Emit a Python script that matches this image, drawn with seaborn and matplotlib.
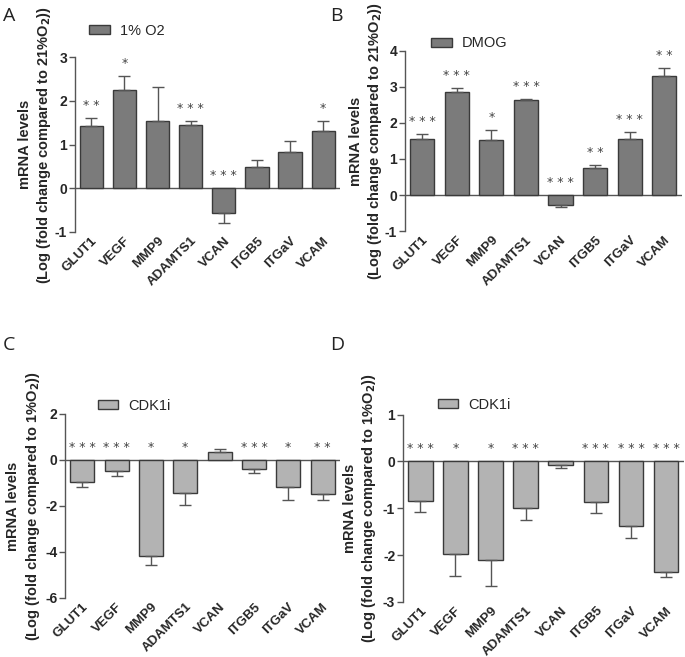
import matplotlib
matplotlib.use("Agg")
import matplotlib.pyplot as plt
import seaborn as sns
import pandas as pd
import numpy as np

genes = ["GLUT1", "VEGF", "MMP9", "ADAMTS1", "VCAN", "ITGB5", "ITGaV", "VCAM"]

# panel A: 1% O2 vs 21% O2
a_vals = [1.42, 2.25, 1.53, 1.44, -0.57, 0.48, 0.83, 1.32]
a_err = [0.18, 0.31, 0.79, 0.09, 0.23, 0.17, 0.24, 0.21]
a_sig = ["**", "*", "", "***", "***", "", "", "*"]

# panel B: DMOG vs 21% O2
b_vals = [1.55, 2.85, 1.53, 2.63, -0.27, 0.74, 1.55, 3.30]
b_err = [0.13, 0.11, 0.27, 0.04, 0.07, 0.09, 0.19, 0.23]
b_sig = ["***", "***", "*", "***", "***", "**", "***", "**"]

# panel C: CDK1i vs 1% O2
c_vals = [-0.97, -0.49, -4.20, -1.43, 0.36, -0.41, -1.17, -1.48]
c_err = [0.22, 0.22, 0.37, 0.54, 0.12, 0.16, 0.57, 0.27]
c_sig = ["***", "***", "*", "*", "", "***", "*", "**"]

# panel D: CDK1i vs 1% O2
d_vals = [-0.85, -1.97, -2.11, -1.00, -0.07, -0.87, -1.38, -2.36]
d_err = [0.23, 0.48, 0.55, 0.25, 0.07, 0.24, 0.26, 0.12]
d_sig = ["***", "*", "*", "***", "", "***", "***", "***"]

sns.set_style("white")
plt.rcParams["font.family"] = ["Liberation Sans", "DejaVu Sans"]

dark = "#7b7b7b"
light = "#b3b3b3"
edge = "#3a3a3a"
axc = "#555555"


def panel(ax, vals, err, sig, color, label, ylab, ylim, yticks, lab_x, leg_xy):
    df = pd.DataFrame({"gene": genes, "val": vals})
    sns.barplot(data=df, x="gene", y="val", ax=ax, color=color, width=0.7,
                edgecolor=edge, linewidth=1.0, saturation=1, label=label)
    x = np.arange(len(genes))
    v = np.array(vals)
    e = np.array(err)
    up = np.where(v >= 0, e, 0)
    lo = np.where(v < 0, e, 0)
    ax.errorbar(x, v, yerr=[lo, up], fmt="none", ecolor="#555555",
                elinewidth=1.0, capsize=4.5, capthick=1.0)
    for xi, vi, ei, s in zip(x, v, e, sig):
        if not s:
            continue
        top = vi + ei if vi > 0 else 0
        ax.annotate(" ".join(s), (xi, top), xytext=(0, 9),
                    textcoords="offset points", ha="center", va="center",
                    fontsize=9, color="#444444", family="DejaVu Sans")
    ax.axhline(0, color=axc, lw=1.0, zorder=0)
    ax.set_xlim(-0.5, 7.5)
    ax.set_ylim(*ylim)
    ax.set_yticks(yticks)
    ax.set_yticklabels([str(t) for t in yticks], fontsize=10,
                       fontweight="bold")
    ax.set_xlabel("")
    ax.set_xticks(x)
    ax.set_xticklabels(genes, rotation=45, ha="right", rotation_mode="anchor",
                       fontsize=9.5, fontweight="bold")
    ax.tick_params(axis="x", length=0, pad=2)
    ax.tick_params(axis="y", length=4.5, width=1, color=axc, direction="out",
                   left=True, pad=1)
    for s in ["top", "right", "bottom"]:
        ax.spines[s].set_visible(False)
    ax.spines["left"].set_color(axc)
    ax.spines["left"].set_linewidth(1.0)
    ax.set_ylabel(ylab, fontsize=10.5, fontweight="bold", linespacing=1.25)
    ax.yaxis.set_label_coords(lab_x, 0.5)
    ax.legend(loc="center left", bbox_to_anchor=leg_xy, frameon=False,
              fontsize=10.5, handlelength=1.4, handleheight=0.6,
              handletextpad=0.7, borderaxespad=0, borderpad=0)


fig = plt.figure(figsize=(6.85, 6.57), dpi=100)
axA = fig.add_axes([0.109, 0.647, 0.387, 0.266])
axB = fig.add_axes([0.591, 0.648, 0.404, 0.275])
axC = fig.add_axes([0.095, 0.090, 0.401, 0.280])
axD = fig.add_axes([0.588, 0.084, 0.410, 0.285])

panel(axA, a_vals, a_err, a_sig, dark, "1% O2",
      "mRNA levels\n(Log (fold change compared to 21%O$_\\mathbf{2}$))",
      (-1, 3), [-1, 0, 1, 2, 3], -0.08, (0.055, 1.15))
panel(axB, b_vals, b_err, b_sig, dark, "DMOG",
      "mRNA levels\n(Log (fold change compared to 21%O$_\\mathbf{2}$))",
      (-1, 4), [-1, 0, 1, 2, 3, 4], -0.074, (0.095, 1.04))
panel(axC, c_vals, c_err, c_sig, light, "CDK1i",
      "mRNA levels\n(Log (fold change compared to 1%O$_\\mathbf{2}$))",
      (-6, 2), [-6, -4, -2, 0, 2], -0.085, (0.12, 1.045))
panel(axD, d_vals, d_err, d_sig, light, "CDK1i",
      "mRNA levels\n(Log (fold change compared to 1%O$_\\mathbf{2}$))",
      (-3, 1), [-3, -2, -1, 0, 1], -0.089, (0.125, 1.053))

for lab, (x, y) in zip("ABCD", [(0.004, 0.99), (0.482, 0.99),
                                (0.004, 0.488), (0.482, 0.488)]):
    fig.text(x, y, lab, fontsize=14, family="Open Sans", va="top",
             ha="left", color="#222222")

fig.savefig("out.png", dpi=100)
